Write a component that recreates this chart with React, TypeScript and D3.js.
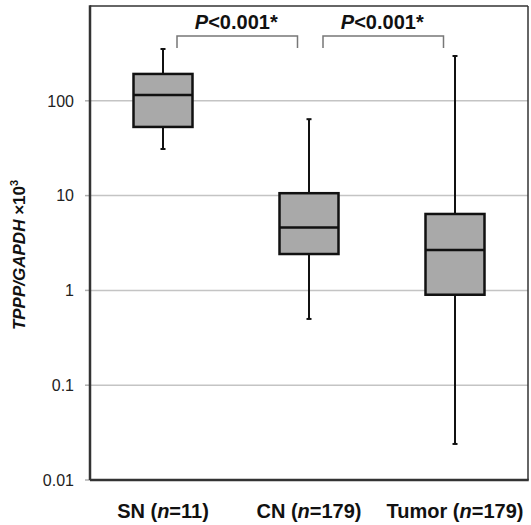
import React from "react";
import * as d3 from "d3";

// groups and box statistics
const groups = ["SN", "CN", "Tumor"];
const counts = [11, 179, 179];
const whiskerHigh = [352, 64, 297];
const q3 = [192, 10.6, 6.4];
const medians = [115, 4.6, 2.67];
const q1 = [53, 2.42, 0.9];
const whiskerLow = [31, 0.5, 0.024];

const yTicks = [0.01, 0.1, 1, 10, 100];
const tickLabels = ["0.01", "0.1", "1", "10", "100"];

// significance brackets: [from group, to group, label]
const comparisons: [number, number][] = [
  [0, 1],
  [1, 2],
];

export default function App() {
  const width = 531;
  const height = 525;
  const left = 90;
  const right = 528;
  const top = 6;
  const bottom = 480;

  const y = d3.scaleLog().domain([0.01, 1000]).range([bottom, top]);
  const x = d3.scaleBand<string>().domain(groups).range([left, right]).padding(0);
  const boxW = 59;
  const cx = (g: string) => (x(g) as number) + x.bandwidth() / 2;

  const font = "'Liberation Sans', Arial, Helvetica, sans-serif";

  return (
    <svg
      width={width}
      height={height}
      style={{ position: "absolute", left: 0, top: 0, background: "#fff" }}
      fontFamily={font}
    >
      {/* grid lines + ticks */}
      {yTicks.map((t, i) => (
        <g key={t}>
          {i > 0 && (
            <line x1={left} x2={right} y1={y(t)} y2={y(t)} stroke="#c4c4c4" strokeWidth={1.5} />
          )}
          <line x1={left - 5} x2={left} y1={y(t)} y2={y(t)} stroke="#b0b0b0" strokeWidth={1.5} />
          <text x={74} y={y(t)} dy="0.36em" textAnchor="end" fontSize={16} fill="#222">
            {tickLabels[i]}
          </text>
        </g>
      ))}

      {/* frame */}
      <line x1={left} x2={right} y1={top} y2={top} stroke="#333" strokeWidth={1.5} />
      <line x1={right} x2={right} y1={top} y2={bottom} stroke="#333" strokeWidth={1.5} />
      <line x1={left} x2={left} y1={top - 0.75} y2={bottom} stroke="#333" strokeWidth={2.5} />
      <line x1={left} x2={right + 0.75} y1={bottom} y2={bottom} stroke="#333" strokeWidth={2.5} />

      {/* boxes */}
      {groups.map((g, i) => {
        const c = cx(g);
        return (
          <g key={g}>
            <line x1={c} x2={c} y1={y(whiskerHigh[i])} y2={y(q3[i])} stroke="#111" strokeWidth={2} />
            <line x1={c} x2={c} y1={y(q1[i])} y2={y(whiskerLow[i])} stroke="#111" strokeWidth={2} />
            <line x1={c - 2.5} x2={c + 2.5} y1={y(whiskerHigh[i])} y2={y(whiskerHigh[i])} stroke="#111" strokeWidth={2} />
            <line x1={c - 2.5} x2={c + 2.5} y1={y(whiskerLow[i])} y2={y(whiskerLow[i])} stroke="#111" strokeWidth={2} />
            <rect
              x={c - boxW / 2}
              y={y(q3[i])}
              width={boxW}
              height={y(q1[i]) - y(q3[i])}
              fill="#a9a9a9"
              stroke="#111"
              strokeWidth={2.5}
            />
            <line x1={c - boxW / 2} x2={c + boxW / 2} y1={y(medians[i])} y2={y(medians[i])} stroke="#111" strokeWidth={2.5} />
            <text x={c} y={518} textAnchor="middle" fontSize={20} fontWeight="bold" fill="#111">
              {g} (<tspan fontStyle="italic">n</tspan>={counts[i]})
            </text>
          </g>
        );
      })}

      {/* significance brackets */}
      {comparisons.map(([a, b], i) => {
        const x1 = cx(groups[a]) + 14;
        const x2 = cx(groups[b]) - 11.5;
        return (
          <g key={i}>
            <path
              d={`M${x1},48V36H${x2}V48`}
              fill="none"
              stroke="#777"
              strokeWidth={1.5}
            />
            <text x={(x1 + x2) / 2 - 1} y={29} textAnchor="middle" fontSize={20} fontWeight="bold" fill="#111">
              <tspan fontStyle="italic">P</tspan>&lt;0.001*
            </text>
          </g>
        );
      })}

      {/* y axis title */}
      <text
        transform={`translate(25, ${(top + bottom) / 2 + 12}) rotate(-90)`}
        textAnchor="middle"
        fontSize={17}
        fontWeight="bold"
        fill="#111"
      >
        <tspan fontStyle="italic">TPPP/GAPDH</tspan> ×10
        <tspan fontSize={11} dy={-7}>3</tspan>
      </text>
    </svg>
  );
}
